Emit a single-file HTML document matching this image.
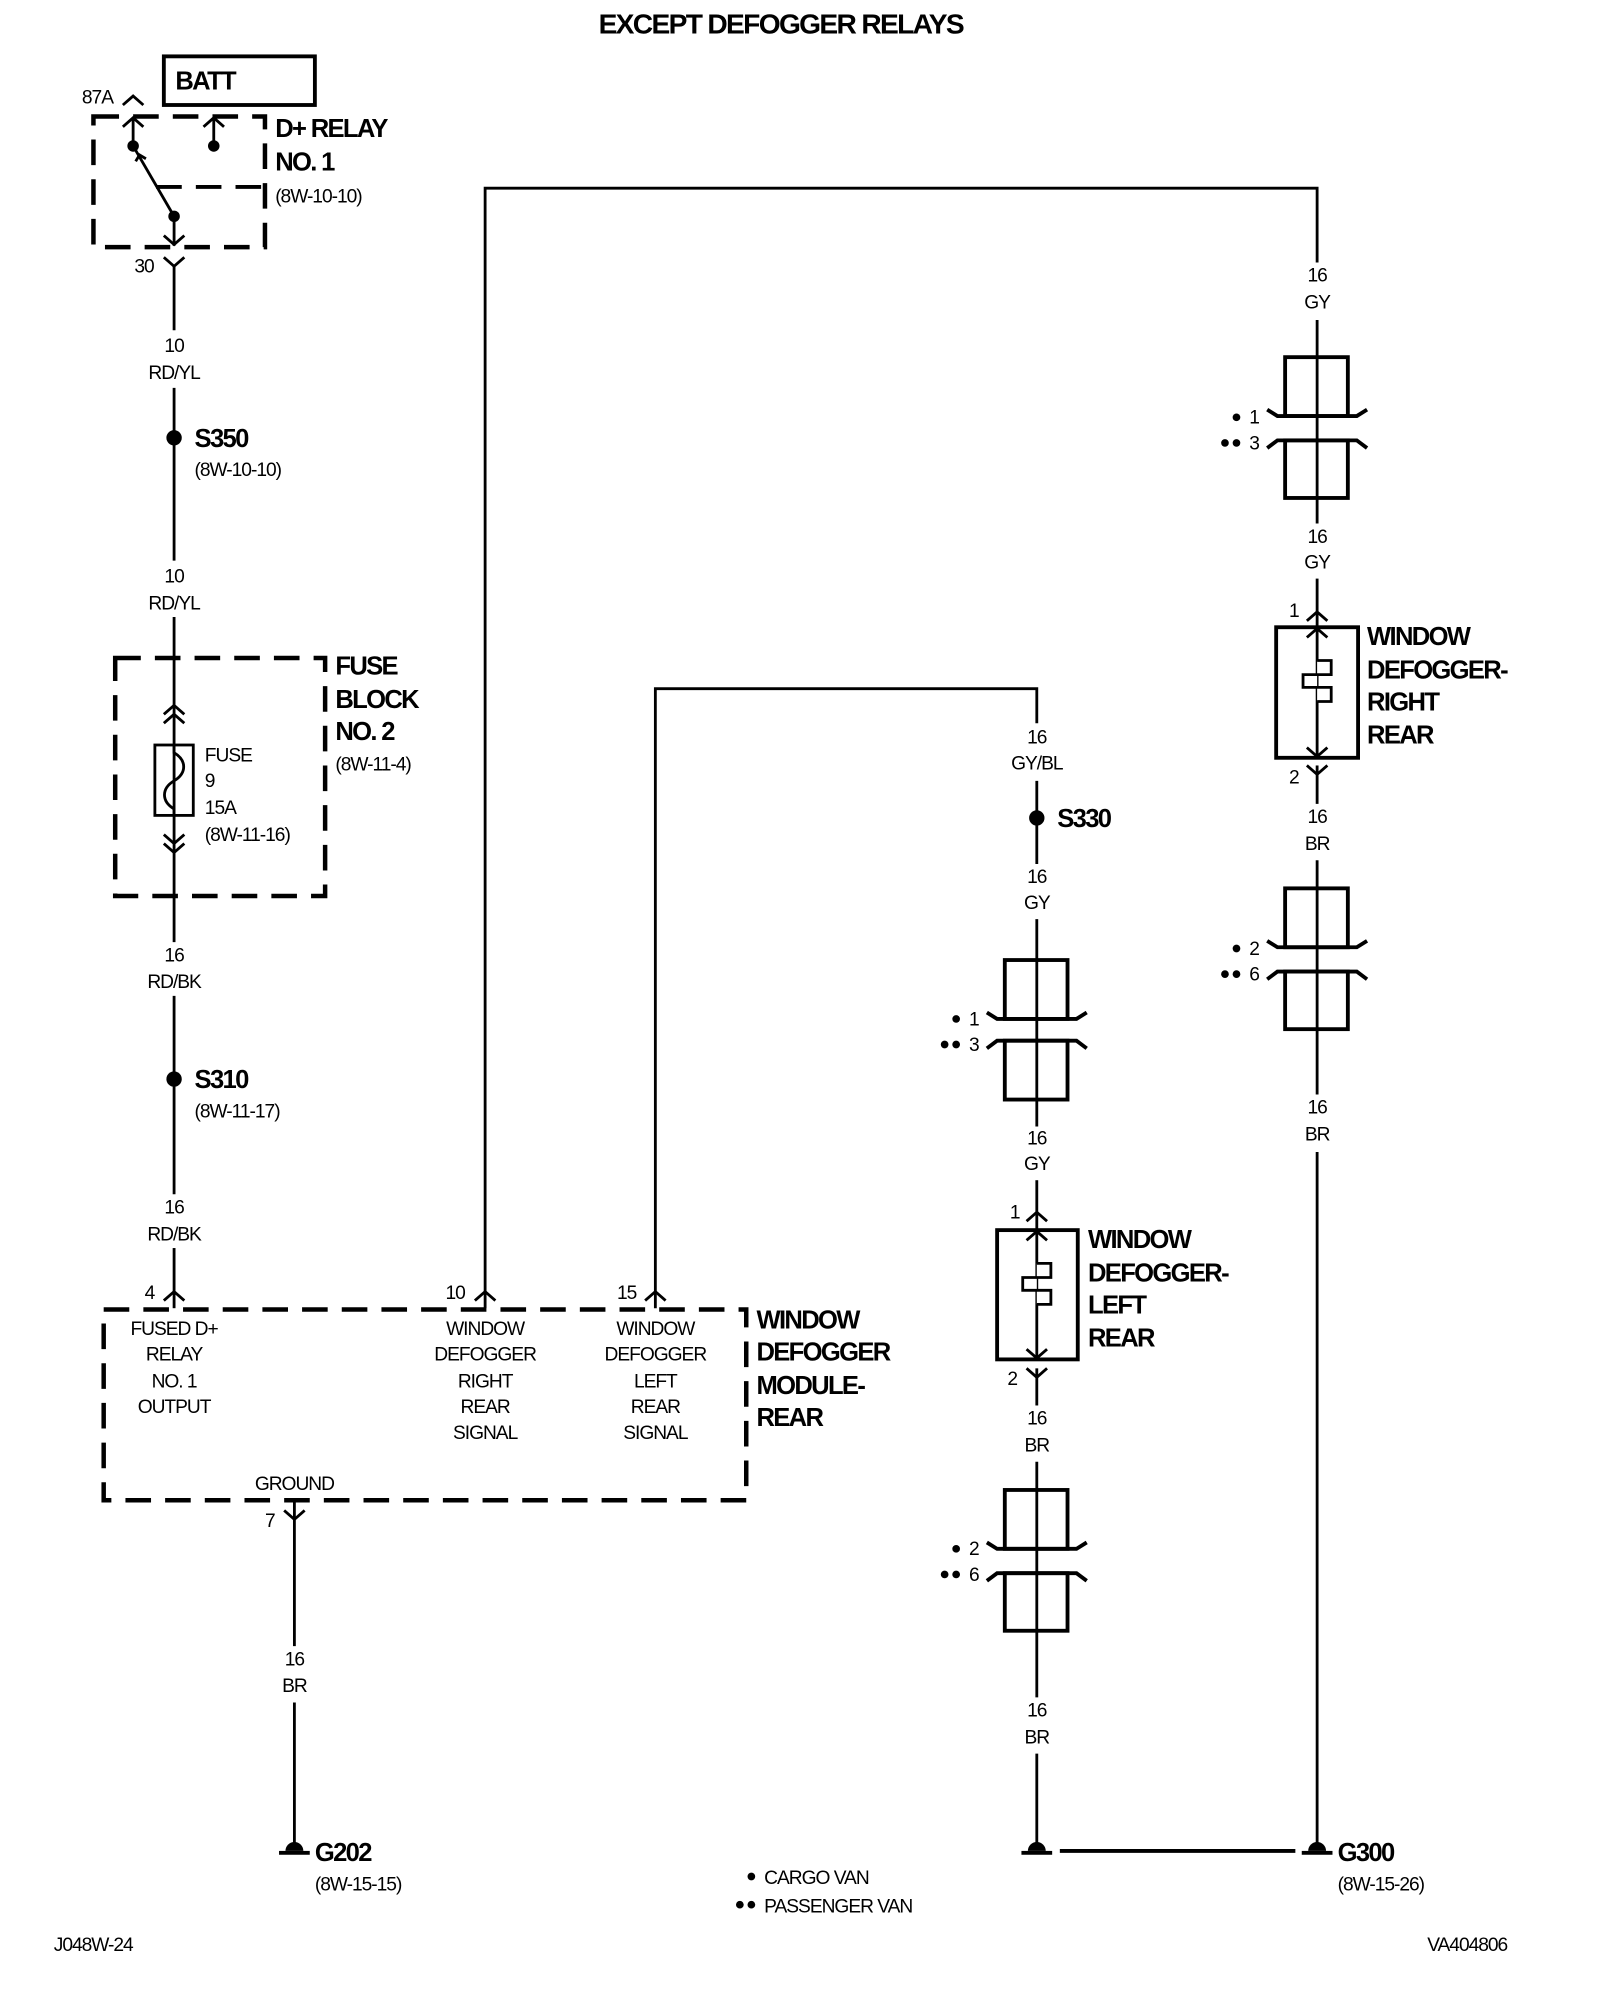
<!DOCTYPE html>
<html><head><meta charset="utf-8"><style>
html,body{margin:0;padding:0;background:#fff;}
svg{display:block;}
text{font-family:"Liberation Sans",sans-serif;fill:#000;}
.s{font-size:15px;letter-spacing:-0.8px;}
.b{font-size:20px;font-weight:bold;letter-spacing:-1.3px;}
.c{text-anchor:middle;}
</style></head><body>
<svg width="1600" height="2002" viewBox="0 0 1250 1564" xmlns="http://www.w3.org/2000/svg">
<g fill="none" stroke="#000" stroke-width="2.2">
<rect x="128" y="44" width="118" height="38" stroke-width="3"/>
<rect x="73" y="91" width="134" height="102" stroke-width="3.5" stroke-dasharray="20,11"/>
<polyline points="96,82 104,75 112,82"/>
<polyline points="96,99 104,92 112,99"/>
<line x1="104" y1="92" x2="104" y2="114"/>
<polyline points="159,99 167,92 175,99"/>
<line x1="167" y1="92" x2="167" y2="114"/>
<line x1="104" y1="114" x2="136" y2="169"/>
<polyline points="106,126 109,121 114,124"/>
<line x1="122" y1="146" x2="207" y2="146" stroke-width="3" stroke-dasharray="20,11"/>
<line x1="136" y1="169" x2="136" y2="192"/>
<polyline points="128,184 136,191 144,184"/>
<polyline points="128,201 136,208 144,201"/>
<line x1="136" y1="208" x2="136" y2="258"/>
<line x1="136" y1="303" x2="136" y2="438"/>
<line x1="136" y1="482" x2="136" y2="736"/>
<line x1="136" y1="778" x2="136" y2="933"/>
<line x1="136" y1="975" x2="136" y2="1022"/>
<polyline points="128,1016 136,1009 144,1016"/>
<rect x="90" y="514" width="164" height="186" stroke-width="3.5" stroke-dasharray="20,11"/>
<polyline points="128,558 136,551 144,558"/><polyline points="128,565 136,558 144,565"/>
<polyline points="128,652 136,659 144,652"/><polyline points="128,659 136,666 144,659"/>
<rect x="121" y="582" width="30" height="55"/>
<path d="M136,582 v6 c10,6 10,16 0,22 c-10,6 -10,16 0,22 v5"/>
<rect x="81" y="1023" width="502" height="149" stroke-width="3.5" stroke-dasharray="20,11"/>
<polyline points="371,1016 379,1009 387,1016"/><polyline points="504,1016 512,1009 520,1016"/>
<polyline points="379,1022 379,147 1029,147 1029,205"/>
<polyline points="512,1022 512,538 810,538 810,565"/>
<polyline points="222,1180 230,1187 238,1180"/>
<line x1="230" y1="1172" x2="230" y2="1286"/>
<line x1="230" y1="1330" x2="230" y2="1440"/>
<line x1="1029" y1="250" x2="1029" y2="409"/>
<line x1="1029" y1="452" x2="1029" y2="490"/>
<polyline points="1021,485 1029,478 1037,485"/>
<rect x="997" y="490" width="64" height="102" stroke-width="3"/>
<line x1="1029" y1="490" x2="1029" y2="592"/>
<polyline points="1021,498 1029,491 1037,498"/><polyline points="1021,584 1029,591 1037,584"/>
<path d="M1029,516 h11 v11 h-22 v10 h22 v11 h-11" fill="#fff"/>
<polyline points="1021,598 1029,605 1037,598"/>
<line x1="1029" y1="598" x2="1029" y2="628"/>
<line x1="1029" y1="672" x2="1029" y2="855"/>
<line x1="1029" y1="900" x2="1029" y2="1440"/>
<line x1="810" y1="610" x2="810" y2="675"/>
<line x1="810" y1="718" x2="810" y2="880"/>
<line x1="810" y1="922" x2="810" y2="961"/>
<polyline points="802,954 810,947 818,954"/>
<rect x="779" y="961" width="63" height="101" stroke-width="3"/>
<line x1="810" y1="961" x2="810" y2="1062"/>
<polyline points="802,969 810,962 818,969"/><polyline points="802,1054 810,1061 818,1054"/>
<path d="M810,987 h11 v11 h-22 v10 h22 v11 h-11" fill="#fff"/>
<polyline points="802,1069 810,1076 818,1069"/>
<line x1="810" y1="1069" x2="810" y2="1098"/>
<line x1="810" y1="1142" x2="810" y2="1326"/>
<line x1="810" y1="1370" x2="810" y2="1440"/>
<line x1="828" y1="1446" x2="1012" y2="1446" stroke-width="3"/>
</g>
<g fill="none" stroke="#000" stroke-width="3">
<rect x="1004" y="279" width="49" height="46"/><rect x="1004" y="344" width="49" height="45"/>
<polyline points="990,320 998,325 1060,325 1068,320"/><polyline points="990,350 998,344 1060,344 1068,350"/>
<rect x="1004" y="694" width="49" height="46"/><rect x="1004" y="759" width="49" height="45"/>
<polyline points="990,735 998,740 1060,740 1068,735"/><polyline points="990,765 998,759 1060,759 1068,765"/>
<rect x="785" y="750" width="49" height="46"/><rect x="785" y="813" width="49" height="46"/>
<polyline points="771,791 779,796 841,796 849,791"/><polyline points="771,819 779,813 841,813 849,819"/>
<rect x="785" y="1164" width="49" height="46"/><rect x="785" y="1229" width="49" height="45"/>
<polyline points="771,1205 779,1210 841,1210 849,1205"/><polyline points="771,1235 779,1229 841,1229 849,1235"/>
</g>
<g fill="#000">
<circle cx="104" cy="114" r="4.5"/><circle cx="167" cy="114" r="4.5"/><circle cx="136" cy="169" r="4.5"/>
<circle cx="136" cy="342" r="6"/><circle cx="136" cy="843" r="6"/><circle cx="810" cy="639" r="6"/>
<path d="M223,1446 a7,7 0 0 1 14,0 z"/><rect x="218" y="1446" width="24" height="3"/>
<path d="M803,1446 a7,7 0 0 1 14,0 z"/><rect x="798" y="1446" width="24" height="3"/>
<path d="M1022,1446 a7,7 0 0 1 14,0 z"/><rect x="1017" y="1446" width="24" height="3"/>
<circle cx="966" cy="326" r="3"/><circle cx="957" cy="346" r="3"/><circle cx="966" cy="346" r="3"/>
<circle cx="966" cy="741" r="3"/><circle cx="957" cy="761" r="3"/><circle cx="966" cy="761" r="3"/>
<circle cx="747" cy="796" r="3"/><circle cx="738" cy="816" r="3"/><circle cx="747" cy="816" r="3"/>
<circle cx="747" cy="1210" r="3"/><circle cx="738" cy="1230" r="3"/><circle cx="747" cy="1230" r="3"/>
<circle cx="587" cy="1466" r="3"/><circle cx="578" cy="1488" r="3"/><circle cx="587" cy="1488" r="3"/>
</g>
<text x="610" y="26" class="b c" style="font-size:22px">EXCEPT DEFOGGER RELAYS</text>
<text x="137" y="70" class="b">BATT</text>
<text x="64" y="81" class="s">87A</text>
<text x="215" y="107" class="b">D+ RELAY</text>
<text x="215" y="133" class="b">NO. 1</text>
<text x="215" y="158" class="s">(8W-10-10)</text>
<text x="105" y="213" class="s">30</text>
<text x="136" y="275" class="s c">10</text><text x="136" y="296" class="s c">RD/YL</text>
<text x="152" y="349" class="b">S350</text><text x="152" y="372" class="s">(8W-10-10)</text>
<text x="136" y="455" class="s c">10</text><text x="136" y="476" class="s c">RD/YL</text>
<text x="262" y="527" class="b">FUSE</text><text x="262" y="553" class="b">BLOCK</text><text x="262" y="578" class="b">NO. 2</text><text x="262" y="602" class="s">(8W-11-4)</text>
<text x="160" y="595" class="s">FUSE</text><text x="160" y="615" class="s">9</text><text x="160" y="636" class="s">15A</text><text x="160" y="657" class="s">(8W-11-16)</text>
<text x="136" y="751" class="s c">16</text><text x="136" y="772" class="s c">RD/BK</text>
<text x="152" y="850" class="b">S310</text><text x="152" y="873" class="s">(8W-11-17)</text>
<text x="136" y="948" class="s c">16</text><text x="136" y="969" class="s c">RD/BK</text>
<text x="113" y="1015" class="s">4</text><text x="348" y="1015" class="s">10</text><text x="482" y="1015" class="s">15</text>
<text x="136" y="1043" class="s c">FUSED D+</text><text x="136" y="1063" class="s c">RELAY</text><text x="136" y="1084" class="s c">NO. 1</text><text x="136" y="1104" class="s c">OUTPUT</text>
<text x="379" y="1043" class="s c">WINDOW</text><text x="379" y="1063" class="s c">DEFOGGER</text><text x="379" y="1084" class="s c">RIGHT</text><text x="379" y="1104" class="s c">REAR</text><text x="379" y="1124" class="s c">SIGNAL</text>
<text x="512" y="1043" class="s c">WINDOW</text><text x="512" y="1063" class="s c">DEFOGGER</text><text x="512" y="1084" class="s c">LEFT</text><text x="512" y="1104" class="s c">REAR</text><text x="512" y="1124" class="s c">SIGNAL</text>
<text x="591" y="1038" class="b">WINDOW</text><text x="591" y="1063" class="b">DEFOGGER</text><text x="591" y="1089" class="b">MODULE-</text><text x="591" y="1114" class="b">REAR</text>
<text x="230" y="1164" class="s c">GROUND</text><text x="207" y="1193" class="s">7</text>
<text x="230" y="1301" class="s c">16</text><text x="230" y="1322" class="s c">BR</text>
<text x="246" y="1454" class="b">G202</text><text x="246" y="1477" class="s">(8W-15-15)</text>
<text x="1029" y="220" class="s c">16</text><text x="1029" y="241" class="s c">GY</text>
<text x="976" y="331" class="s">1</text><text x="976" y="351" class="s">3</text>
<text x="1029" y="424" class="s c">16</text><text x="1029" y="444" class="s c">GY</text>
<text x="1007" y="482" class="s">1</text><text x="1007" y="612" class="s">2</text>
<text x="1068" y="504" class="b">WINDOW</text><text x="1068" y="530" class="b">DEFOGGER-</text><text x="1068" y="555" class="b">RIGHT</text><text x="1068" y="581" class="b">REAR</text>
<text x="1029" y="643" class="s c">16</text><text x="1029" y="664" class="s c">BR</text>
<text x="976" y="746" class="s">2</text><text x="976" y="766" class="s">6</text>
<text x="1029" y="870" class="s c">16</text><text x="1029" y="891" class="s c">BR</text>
<text x="1045" y="1454" class="b">G300</text><text x="1045" y="1477" class="s">(8W-15-26)</text>
<text x="810" y="581" class="s c">16</text><text x="810" y="601" class="s c">GY/BL</text>
<text x="826" y="646" class="b">S330</text>
<text x="810" y="690" class="s c">16</text><text x="810" y="710" class="s c">GY</text>
<text x="757" y="801" class="s">1</text><text x="757" y="821" class="s">3</text>
<text x="810" y="894" class="s c">16</text><text x="810" y="914" class="s c">GY</text>
<text x="789" y="952" class="s">1</text><text x="787" y="1082" class="s">2</text>
<text x="850" y="975" class="b">WINDOW</text><text x="850" y="1001" class="b">DEFOGGER-</text><text x="850" y="1026" class="b">LEFT</text><text x="850" y="1052" class="b">REAR</text>
<text x="810" y="1113" class="s c">16</text><text x="810" y="1134" class="s c">BR</text>
<text x="757" y="1215" class="s">2</text><text x="757" y="1235" class="s">6</text>
<text x="810" y="1341" class="s c">16</text><text x="810" y="1362" class="s c">BR</text>
<text x="597" y="1472" class="s">CARGO VAN</text><text x="597" y="1494" class="s">PASSENGER VAN</text>
<text x="42" y="1524" class="s">J048W-24</text><text x="1115" y="1524" class="s">VA404806</text>
</svg>
</body></html>
